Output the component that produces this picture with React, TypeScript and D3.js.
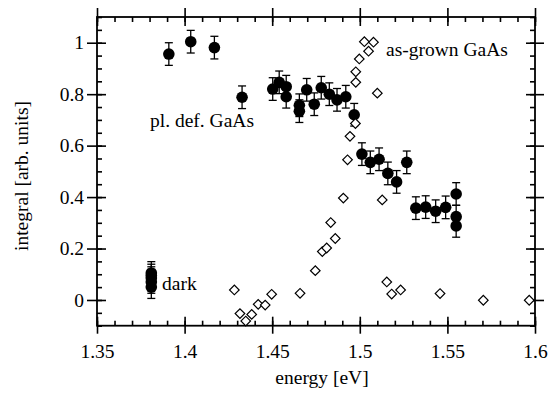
// App.tsx
// integral vs energy scatter with error bars, drawn with d3 into an svg
import * as d3 from 'd3';
import React, { useRef, useEffect } from 'react';

// pl. def. GaAs (filled circles, with error bars)
const plEnergy = [1.391, 1.4035, 1.417, 1.4328, 1.4503, 1.454, 1.458, 1.458, 1.4655, 1.4655, 1.4697, 1.474, 1.478, 1.4826, 1.487, 1.492, 1.4968, 1.5012, 1.506, 1.511, 1.516, 1.521, 1.5268, 1.532, 1.5376, 1.5433, 1.549, 1.555, 1.555, 1.555];
const plValue = [0.956, 1.004, 0.981, 0.788, 0.82, 0.846, 0.829, 0.79, 0.757, 0.734, 0.817, 0.761, 0.825, 0.8, 0.778, 0.79, 0.72, 0.567, 0.535, 0.547, 0.492, 0.459, 0.535, 0.357, 0.361, 0.345, 0.36, 0.412, 0.324, 0.288];

// dark (filled circles at one energy)
const darkEnergy = [1.381, 1.381, 1.381, 1.381, 1.381];
const darkValue = [0.105, 0.095, 0.085, 0.07, 0.05];

const errBar = 0.044;

// as-grown GaAs (open diamonds)
const agEnergy = [1.4284, 1.4316, 1.4349, 1.4383, 1.442, 1.446, 1.4497, 1.4659, 1.4746, 1.4786, 1.4811, 1.4834, 1.486, 1.4906, 1.493, 1.4944, 1.4975, 1.4977, 1.4977, 1.4997, 1.5026, 1.505, 1.5078, 1.51, 1.5128, 1.5154, 1.5182, 1.5233, 1.5458, 1.5705, 1.5967];
const agValue = [0.039, -0.053, -0.082, -0.056, -0.017, -0.02, 0.022, 0.026, 0.114, 0.188, 0.202, 0.301, 0.239, 0.396, 0.545, 0.636, 0.686, 0.846, 0.887, 0.937, 1.004, 0.967, 1.002, 0.804, 0.389, 0.07, 0.023, 0.039, 0.025, -0.001, -0.001];

const xTicks = [1.35, 1.4, 1.45, 1.5, 1.55, 1.6];
const xTickLabels = ['1.35', '1.4', '1.45', '1.5', '1.55', '1.6'];
const yTicks = [0, 0.2, 0.4, 0.6, 0.8, 1];
const yTickLabels = ['0', '0.2', '0.4', '0.6', '0.8', '1'];

const W = 548, H = 407;
const L = 97, R = 535, T = 17, B = 325.7;
const FONT = '"Liberation Serif", "Times New Roman", serif';
const FS = 19.5;

function App() {
    const ref = useRef<SVGSVGElement>(null);

    useEffect(() => {
        const svg = d3.select(ref.current);
        svg.selectAll('*').remove();

        const x = d3.scaleLinear().domain([1.35, 1.6]).range([L, R]);
        const y = d3.scaleLinear().domain([-0.1, 1.1]).range([B, T]);

        const xMinor = d3.range(135, 161).map(d => d / 100);
        const yMinor = d3.range(-2, 23).map(d => d / 20);

        const g = svg.append('g');

        //ticks: majors stick out on both sides, minors only inward
        const bottom = (a: any) => g.append('g').attr('transform', 'translate(0,' + B + ')').call(a);
        const top = (a: any) => g.append('g').attr('transform', 'translate(0,' + T + ')').call(a);
        const left = (a: any) => g.append('g').attr('transform', 'translate(' + L + ',0)').call(a);
        const right = (a: any) => g.append('g').attr('transform', 'translate(' + R + ',0)').call(a);

        bottom(d3.axisBottom(x).tickValues(xMinor).tickSizeInner(-5).tickSizeOuter(0).tickFormat(() => ''));
        bottom(d3.axisBottom(x).tickValues(xTicks).tickSizeInner(-9).tickSizeOuter(0).tickFormat(() => ''));
        bottom(d3.axisBottom(x).tickValues(xTicks).tickSizeInner(8).tickSizeOuter(0).tickPadding(10)
            .tickFormat((d, i) => xTickLabels[i]));
        top(d3.axisTop(x).tickValues(xMinor).tickSizeInner(-5).tickSizeOuter(0).tickFormat(() => ''));
        top(d3.axisTop(x).tickValues(xTicks).tickSizeInner(-9).tickSizeOuter(0).tickFormat(() => ''));
        top(d3.axisTop(x).tickValues(xTicks).tickSizeInner(9).tickSizeOuter(0).tickFormat(() => ''));

        left(d3.axisLeft(y).tickValues(yMinor).tickSizeInner(-5).tickSizeOuter(0).tickFormat(() => ''));
        left(d3.axisLeft(y).tickValues(yTicks).tickSizeInner(-9).tickSizeOuter(0).tickFormat(() => ''));
        left(d3.axisLeft(y).tickValues(yTicks).tickSizeInner(10).tickSizeOuter(0).tickPadding(3)
            .tickFormat((d, i) => yTickLabels[i]));
        right(d3.axisRight(y).tickValues(yMinor).tickSizeInner(-5).tickSizeOuter(0).tickFormat(() => ''));
        right(d3.axisRight(y).tickValues(yTicks).tickSizeInner(-9).tickSizeOuter(0).tickFormat(() => ''));
        right(d3.axisRight(y).tickValues(yTicks).tickSizeInner(9).tickSizeOuter(0).tickFormat(() => ''));

        g.selectAll('.domain').remove();
        g.selectAll('.tick line').attr('stroke', '#000').attr('stroke-width', 1.6);
        g.selectAll('.tick text')
            .attr('font-family', FONT).attr('font-size', FS).attr('fill', '#000');

        g.append('rect')
            .attr('x', L).attr('y', T)
            .attr('width', R - L).attr('height', B - T)
            .attr('fill', 'none').attr('stroke', '#000').attr('stroke-width', 1.8);

        //error bars + filled circles
        const filled = plEnergy.map((e, i) => [e, plValue[i]])
            .concat(darkEnergy.map((e, i) => [e, darkValue[i]]));

        const eb = g.append('g').attr('stroke', '#000').attr('stroke-width', 1.3);
        filled.forEach(([e, v]) => {
            const cx = x(e);
            eb.append('line').attr('x1', cx).attr('x2', cx).attr('y1', y(v - errBar)).attr('y2', y(v + errBar));
            eb.append('line').attr('x1', cx - 4).attr('x2', cx + 4).attr('y1', y(v - errBar)).attr('y2', y(v - errBar));
            eb.append('line').attr('x1', cx - 4).attr('x2', cx + 4).attr('y1', y(v + errBar)).attr('y2', y(v + errBar));
        });

        g.append('g').selectAll('circle').data(filled).enter()
            .append('circle')
            .attr('cx', d => x(d[0]))
            .attr('cy', d => y(d[1]))
            .attr('r', 5.8)
            .attr('fill', '#000');

        //open diamonds on top
        const diamond = d3.symbol().type(d3.symbolSquare).size(46);
        g.append('g').selectAll('path').data(agEnergy).enter()
            .append('path')
            .attr('d', diamond() as string)
            .attr('transform', (d, i) => 'translate(' + x(d) + ',' + y(agValue[i]) + ') rotate(45)')
            .attr('fill', '#fff')
            .attr('stroke', '#000')
            .attr('stroke-width', 1.2);

        //labels
        const label = (tx: number, ty: number, s: string) =>
            g.append('text').attr('x', tx).attr('y', ty)
                .attr('font-family', FONT).attr('font-size', FS).attr('fill', '#000').text(s);
        label(386, 56, 'as-grown GaAs');
        label(150, 127, 'pl. def. GaAs');
        label(162, 290, 'dark');

        g.append('text')
            .attr('x', 322).attr('y', 384)
            .attr('text-anchor', 'middle')
            .attr('font-family', FONT).attr('font-size', FS).attr('fill', '#000')
            .text('energy [eV]');
        g.append('text')
            .attr('transform', 'translate(28,176) rotate(-90)')
            .attr('text-anchor', 'middle')
            .attr('font-family', FONT).attr('font-size', FS).attr('fill', '#000')
            .text('integral [arb. units]');
    }, []);

    return (
        <svg ref={ref} width={W} height={H}
            style={{ position: 'absolute', left: 0, top: 0, background: '#fff' }}>
        </svg>
    );
}

export default App;
